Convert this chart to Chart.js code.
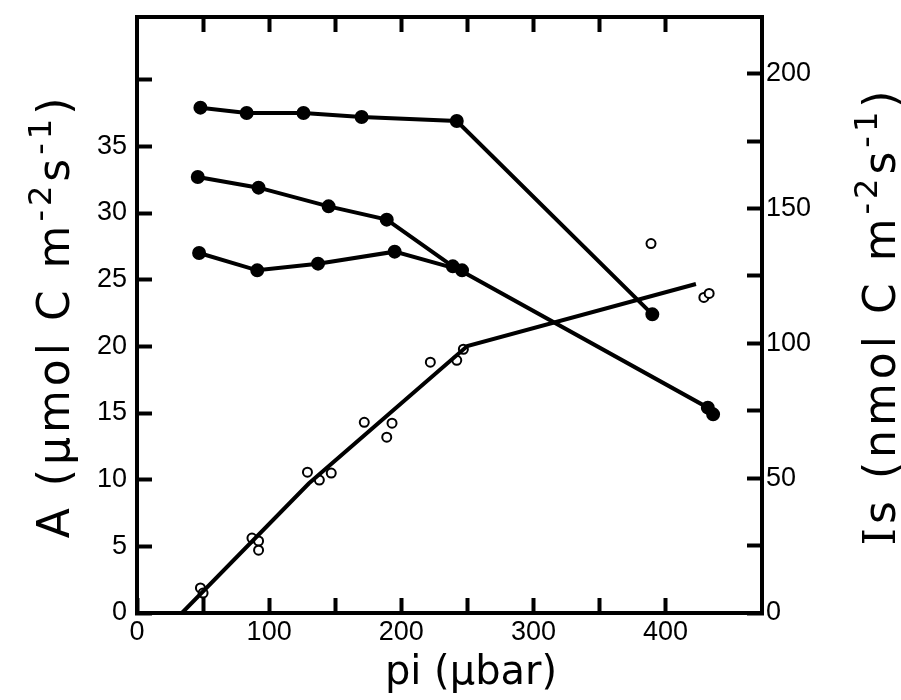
<!DOCTYPE html>
<html>
<head>
<meta charset="utf-8">
<script src="https://cdn.jsdelivr.net/npm/chart.js@4/dist/chart.umd.min.js"></script>
<style>
  html, body { margin: 0; padding: 0; background: #fff; }
  #wrap { width: 901px; height: 700px; }
</style>
</head>
<body>
<div id="wrap"><canvas id="chart" width="901" height="700"></canvas></div>
<script>
// Assimilation A (filled dots), three runs
const piTop = [48, 83, 126, 170, 242, 390];
const aTop = [37.9, 37.5, 37.5, 37.2, 36.9, 22.4];
const piMid = [46, 92, 145, 189, 239, 432, 436];
const aMid = [32.7, 31.9, 30.5, 29.5, 26.0, 15.4, 14.9];
const piLow = [47, 91, 137, 195, 246];
const aLow = [27.0, 25.7, 26.2, 27.1, 25.7];

// Is (open circles) and the hand-fitted line through them
const piIs = [48, 50, 87, 92, 92, 129, 138, 147, 172, 189, 193, 222, 242, 247, 389, 429, 433];
const isVals = [9.3, 7.4, 27.8, 26.7, 23.3, 52.2, 49.3, 51.9, 70.7, 65.2, 70.4, 93, 93.7, 97.8, 137, 117, 118.5];
const piFit = [34, 130, 250, 423];
const isFit = [0, 48, 99, 122];

// Axis ticks
const piTicks = [0, 50, 100, 150, 200, 250, 300, 350, 400];
const piLabels = [0, 100, 200, 300, 400];
const aTicks = [0, 5, 10, 15, 20, 25, 30, 35, 40];
const aLabels = [0, 5, 10, 15, 20, 25, 30, 35];
const isTicks = [0, 25, 50, 75, 100, 125, 150, 175, 200];
const isLabels = [0, 50, 100, 150, 200];

const toPts = (xs, ys) => xs.map((x, i) => ({ x: x, y: ys[i] }));

const tickFont = { family: 'Liberation Sans', size: 27 };
const axisGrid = { drawOnChartArea: false, tickLength: -15, tickWidth: 4, tickColor: '#000' };
const axisBorder = { color: '#000', width: 4 };

// Axis titles with superscripts, drawn as rich text
const titleSize = 44;
const leftTitle = [
  { text: 'A (\u03bcmol C m' }, { text: '-2', sup: true }, { text: 's' }, { text: '-1', sup: true }, { text: ')' }
];
const rightTitle = [
  { text: 'I', serif: true }, { text: 's (nmol C m' }, { text: '-2', sup: true }, { text: 's' }, { text: '-1', sup: true }, { text: ')' }
];
const bottomTitle = [{ text: 'pi (\u03bcbar)' }];

function partFont(p, size) {
  const s = p.sup ? Math.round(size * 0.72) : size;
  const fam = p.serif ? '"DejaVu Serif"' : '"DejaVu Sans"';
  return s + 'px ' + fam;
}

function drawRich(ctx, parts, x, y, angle, size, spacing) {
  ctx.save();
  ctx.translate(x, y);
  ctx.rotate(angle);
  ctx.fillStyle = '#000';
  ctx.textBaseline = 'alphabetic';
  ctx.letterSpacing = spacing + 'px';
  let total = 0;
  parts.forEach(p => {
    ctx.font = partFont(p, size);
    total += ctx.measureText(p.text).width;
  });
  let cx = -total / 2;
  parts.forEach(p => {
    ctx.font = partFont(p, size);
    ctx.fillText(p.text, cx, p.sup ? -size * 0.42 : 0);
    cx += ctx.measureText(p.text).width;
  });
  ctx.restore();
}

const axisTitles = {
  id: 'axisTitles',
  afterDraw(chart) {
    const ctx = chart.ctx;
    drawRich(ctx, leftTitle, 69, 316, -Math.PI / 2, titleSize, 4);
    drawRich(ctx, rightTitle, 895, 316, -Math.PI / 2, titleSize, 4);
    drawRich(ctx, bottomTitle, 471, 684, 0, 40, 0);
  }
};

// keep the plot frame fixed: no extra room for overhanging labels
const noPad = s => { s.paddingTop = 0; s.paddingBottom = 0; s.paddingLeft = 0; s.paddingRight = 0; };

const lineSet = (xs, ys) => ({
  data: toPts(xs, ys),
  yAxisID: 'y',
  showLine: true,
  borderColor: '#000',
  borderWidth: 4,
  pointRadius: 5,
  pointBackgroundColor: '#000',
  pointBorderColor: '#000',
  tension: 0
});

new Chart(document.getElementById('chart'), {
  type: 'scatter',
  data: {
    datasets: [
      lineSet(piTop, aTop),
      lineSet(piMid, aMid),
      lineSet(piLow, aLow),
      {
        data: toPts(piFit, isFit),
        yAxisID: 'y2',
        showLine: true,
        borderColor: '#000',
        borderWidth: 4,
        pointRadius: 0
      },
      {
        data: toPts(piIs, isVals),
        yAxisID: 'y2',
        showLine: false,
        pointRadius: 4.5,
        pointBorderWidth: 2,
        pointBackgroundColor: '#fff',
        pointBorderColor: '#000'
      }
    ]
  },
  options: {
    responsive: false,
    animation: false,
    devicePixelRatio: 1,
    layout: { padding: 0 },
    plugins: { legend: { display: false }, tooltip: { enabled: false } },
    scales: {
      x: {
        type: 'linear', position: 'bottom', min: 0, max: 473,
        afterBuildTicks: s => { s.ticks = piTicks.map(v => ({ value: v })); },
        afterFit: s => { s.height = 87; noPad(s); },
        ticks: {
          font: tickFont, color: '#000', padding: 18, maxRotation: 0,
          callback: v => piLabels.includes(v) ? String(v) : ''
        },
        grid: axisGrid, border: axisBorder
      },
      x2: {
        type: 'linear', position: 'top', min: 0, max: 473,
        afterBuildTicks: s => { s.ticks = piTicks.filter(v => v > 0).map(v => ({ value: v })); },
        afterFit: s => { s.height = 17; noPad(s); },
        ticks: { callback: () => '' },
        grid: axisGrid, border: axisBorder
      },
      y: {
        type: 'linear', position: 'left', min: 0, max: 44.7,
        afterBuildTicks: s => { s.ticks = aTicks.map(v => ({ value: v })); },
        afterFit: s => { s.width = 137; noPad(s); },
        ticks: {
          font: tickFont, color: '#000', padding: 25,
          callback: v => aLabels.includes(v) ? String(v) : ''
        },
        grid: axisGrid, border: axisBorder
      },
      y2: {
        type: 'linear', position: 'right', min: 0, max: 221,
        afterBuildTicks: s => { s.ticks = isTicks.map(v => ({ value: v })); },
        afterFit: s => { s.width = 139; noPad(s); },
        ticks: {
          font: tickFont, color: '#000', padding: 19,
          callback: v => isLabels.includes(v) ? String(v) : ''
        },
        grid: axisGrid, border: axisBorder
      }
    }
  },
  plugins: [axisTitles]
});
</script>
</body>
</html>
